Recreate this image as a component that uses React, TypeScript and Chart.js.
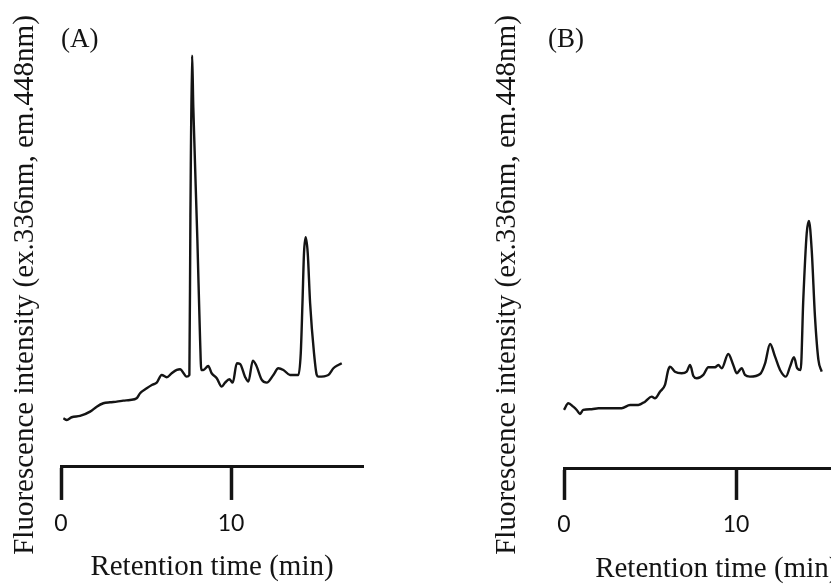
import React, { useEffect, useRef } from "react";
import { Chart, registerables } from "chart.js";

Chart.register(...registerables);

// ---------- data ----------
const X_TICKS = [0, 10];
const X_MAX = 17.76;
const X_TITLE = "Retention time (min)";
const Y_TITLE = "Fluorescence intensity (ex.336nm, em.448nm)";
const PANEL_LABELS = ["(A)", "(B)"];

const A_TIME = [
  0.14, 0.34, 0.63, 1.12, 1.71, 2.1, 2.49, 2.88, 3.28, 3.66, 4.06, 4.45, 4.65, 5.04, 5.34, 5.63, 5.92,
  6.22, 6.51, 6.81, 7.0, 7.39, 7.55, 7.61, 7.71, 7.78, 8.02, 8.18, 8.25, 8.37, 8.66, 8.86, 9.16, 9.45,
  9.65, 9.9, 10.1, 10.34, 10.53, 10.82, 11.02, 11.28, 11.47, 11.81, 12.1, 12.49, 12.78, 13.08, 13.47,
  13.96, 14.1, 14.2, 14.29, 14.39, 14.51, 14.65, 14.88, 15.04, 15.14, 15.72, 16.02, 16.31, 16.51,
];
const A_SIGNAL = [
  48.7, 47, 49.7, 51, 55.3, 60.3, 63.7, 64.7, 65.3, 66.3, 67, 68.7, 73.7, 78.7, 82, 84.3, 92,
  89.7, 93.7, 97, 97.7, 90.3, 92, 250, 411, 360, 227, 127, 97, 97, 101, 93.7, 88.7, 80.3,
  84.3, 87.7, 84.3, 103.7, 103, 90.3, 85.3, 106.3, 102, 87, 84.3, 92, 98.7, 97, 92,
  92, 113.7, 163.7, 213.7, 229.7, 213.7, 163.7, 113.7, 92, 90.3, 92, 98.7, 102, 103.7,
];

const B_TIME = [
  0.0, 0.25, 0.54, 0.74, 0.93, 1.12, 1.61, 2.0, 2.58, 3.35, 3.84, 4.32, 4.71, 5.1, 5.29, 5.58, 5.87,
  6.06, 6.16, 6.45, 6.84, 7.13, 7.33, 7.52, 7.72, 8.1, 8.39, 8.78, 8.97, 9.17, 9.55, 9.84, 10.04,
  10.33, 10.52, 10.81, 11.4, 11.69, 11.98, 12.27, 12.56, 12.9, 13.14, 13.37, 13.56, 13.76, 13.91,
  14.11, 14.24, 14.4, 14.59, 14.79, 14.98,
];
const B_SIGNAL = [
  59, 65.7, 62.3, 59, 55, 59, 59.7, 60.7, 60.7, 60.7, 64, 64, 67.3, 72.3, 70.7, 77.3, 84,
  99, 102.3, 97.3, 95.7, 97.3, 104, 93, 90.7, 94, 101.7, 101.7, 104, 100.7, 115, 104, 95.7,
  100.7, 94, 92.3, 95, 105.7, 125, 112.3, 99, 92.3, 102.3, 111.7, 100.7, 99, 169,
  235.7, 248, 219, 152.3, 109, 97.3,
];

type PanelCfg = {
  time: number[];
  signal: number[];
  label: string;
  left: number;
  width: number;
  padLeft: number;
  padRight: number;
  yTitlePad: { top: number; bottom: number };
  yMax: number;
  tickLength: number;
  tickPadding: number;
  xTitlePad: { top: number; bottom: number };
};

const PANELS: PanelCfg[] = [
  {
    time: A_TIME,
    signal: A_SIGNAL,
    label: PANEL_LABELS[0],
    left: 0,
    width: 415,
    padLeft: 61,
    padRight: 52,
    yTitlePad: { top: -53.4, bottom: 18.6 },
    yMax: 410.8,
    tickLength: 33,
    tickPadding: 10,
    xTitlePad: { top: 6.1, bottom: 2.5 },
  },
  {
    time: B_TIME,
    signal: B_SIGNAL,
    label: PANEL_LABELS[1],
    left: 415,
    width: 490,
    padLeft: 133,
    padRight: 35.5,
    yTitlePad: { top: -58.4, bottom: 39.6 },
    yMax: 412.8,
    tickLength: 31,
    tickPadding: 11.8,
    xTitlePad: { top: 4.5, bottom: 0.5 },
  },
];

const SERIF = "'Liberation Serif', 'Times New Roman', serif";
const SANS = "Lato, 'Open Sans', sans-serif";
const INK = "#141414";

function Panel({ cfg }: { cfg: PanelCfg }) {
  const ref = useRef<HTMLCanvasElement | null>(null);
  useEffect(() => {
    if (!ref.current) return;
    const chart = new Chart(ref.current, {
      type: "line",
      data: {
        datasets: [
          {
            data: cfg.time.map((t, i) => ({ x: t, y: cfg.signal[i] })),
            borderColor: INK,
            borderWidth: 2.4,
            pointRadius: 0,
            cubicInterpolationMode: "monotone",
            fill: false,
            clip: false as any,
          },
        ],
      },
      options: {
        animation: false,
        responsive: false,
        devicePixelRatio: 1,
        layout: {
          padding: { left: cfg.padLeft, right: cfg.padRight, top: -14, bottom: 0 },
        },
        plugins: {
          legend: { display: false },
          tooltip: { enabled: false },
          title: {
            display: true,
            text: Y_TITLE,
            position: "left",
            fullSize: true,
            color: INK,
            font: { family: SERIF, size: 29, weight: "normal", lineHeight: 1.2 },
            padding: cfg.yTitlePad,
          },
          subtitle: {
            display: true,
            text: cfg.label,
            position: "top",
            align: "start",
            fullSize: true,
            color: INK,
            font: { family: SERIF, size: 27, weight: "normal", lineHeight: 1.2 },
            padding: { top: 37.8, bottom: 0 },
          },
        },
        scales: {
          x: {
            type: "linear",
            min: 0,
            max: X_MAX,
            afterBuildTicks: (s: any) => {
              s.ticks = X_TICKS.map((v) => ({ value: v }));
            },
            grid: {
              display: true,
              drawOnChartArea: false,
              drawTicks: true,
              tickLength: cfg.tickLength,
              tickWidth: 3.5,
              tickColor: INK,
            },
            border: { display: true, color: INK, width: 3 },
            ticks: {
              padding: cfg.tickPadding,
              color: "#111",
              maxRotation: 0,
              font: { family: SANS, size: 23, lineHeight: 1.15 },
            },
            title: {
              display: true,
              text: X_TITLE,
              color: INK,
              font: { family: SERIF, size: 29, lineHeight: 1.0 },
              padding: cfg.xTitlePad,
            },
          },
          y: {
            type: "linear",
            display: false,
            min: 0,
            max: cfg.yMax,
          },
        },
      },
    });
    return () => chart.destroy();
  }, [cfg]);
  return (
    <canvas
      ref={ref}
      width={cfg.width}
      height={584}
      style={{ position: "absolute", left: cfg.left, top: 0, width: cfg.width, height: 584, display: "block" }}
    />
  );
}

export default function App() {
  return (
    <div
      style={{
        position: "absolute",
        left: 0,
        top: 0,
        width: 831,
        height: 584,
        overflow: "hidden",
        background: "#fff",
      }}
    >
      {PANELS.map((p, i) => (
        <Panel key={i} cfg={p} />
      ))}
    </div>
  );
}
